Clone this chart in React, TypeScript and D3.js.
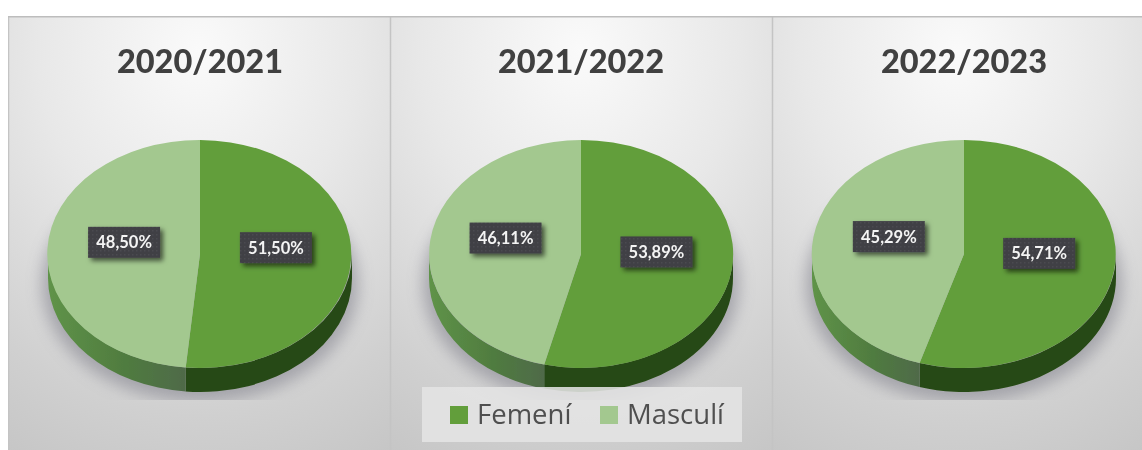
import React from "react";
import * as d3 from "d3";

const years = ["2020/2021", "2021/2022", "2022/2023"];
const categories = ["Femení", "Masculí"];
const femeni = [51.5, 53.89, 54.71];
const masculi = [48.5, 46.11, 45.29];
const colors = ["#629e3b", "#a3c88f"];
const labelText = (v: number) => v.toFixed(2).replace(".", ",") + "%";

const W = 1142, H = 450;
const RX = 152, RY = 114, CY = 254, DEPTH = 24;
const centers = [200, 581, 964];
const panelEdges = [8, 390, 772, 1142];

const pt = (a: number) => [RX * Math.sin(a), -RY * Math.cos(a)];
function sidePath(a0: number, a1: number) {
  const [x0, y0] = pt(a0), [x1, y1] = pt(a1);
  return `M${x0},${y0}A${RX},${RY} 0 0 1 ${x1},${y1}L${x1},${y1 + DEPTH}A${RX},${RY} 0 0 0 ${x0},${y0 + DEPTH}Z`;
}
const pie = d3.pie<number>().sort(null);
const arcGen = d3.arc<d3.PieArcDatum<number>>().innerRadius(0).outerRadius(1);

export default function App() {
  return (
    <svg width={W} height={H} viewBox={`0 0 ${W} ${H}`} style={{ position: "absolute", left: 0, top: 0, background: "#fff" }}>
      <defs>
        <radialGradient id="bg" cx="50%" cy="8%" r="105%">
          <stop offset="0%" stopColor="#fafafa" />
          <stop offset="40%" stopColor="#e8e8e8" />
          <stop offset="80%" stopColor="#d0d0d0" />
          <stop offset="100%" stopColor="#c6c6c6" />
        </radialGradient>
        <linearGradient id="sideLight" x1="0" x2="1" y1="0" y2="0">
          <stop offset="0%" stopColor="#5f9348" />
          <stop offset="55%" stopColor="#507c40" />
          <stop offset="100%" stopColor="#4f6a48" />
        </linearGradient>
        <filter id="blur" x="-20%" y="-20%" width="140%" height="140%">
          <feGaussianBlur stdDeviation="8" />
        </filter>
        <filter id="lblShadow" x="-20%" y="-30%" width="150%" height="170%">
          <feDropShadow dx="3" dy="3" stdDeviation="2.5" floodColor="#000" floodOpacity="0.6" />
        </filter>
        <filter id="soft" x="0" y="0" width="100%" height="100%">
          <feGaussianBlur stdDeviation="0.4" />
        </filter>
        <pattern id="dots" width="4" height="4" patternUnits="userSpaceOnUse">
          <rect width="4" height="4" fill="#3f3f45" />
          <rect width="1.5" height="1.5" fill="#4b4b50" />
        </pattern>
        <clipPath id="shadowClip">
          <rect x="0" y="0" width={W} height="400" />
        </clipPath>
      </defs>

      <g filter="url(#soft)">
        {years.map((y, i) => (
          <g key={"p" + y}>
            <rect x={panelEdges[i]} y={16} width={panelEdges[i + 1] - panelEdges[i]} height={H - 16} fill="url(#bg)" />
            <line x1={panelEdges[i] + 0.5} x2={panelEdges[i] + 0.5} y1={16} y2={H} stroke="#c4c4c4" strokeWidth={1.5} />
          </g>
        ))}
        <line x1={8} x2={W} y1={16.5} y2={16.5} stroke="#bdbdbd" strokeWidth={2} />

        {years.map((y, i) => {
          const cx = centers[i];
          const arcs = pie([femeni[i], masculi[i]]);
          const boundary = arcs[0].endAngle;
          return (
            <g key={y}>
              <text x={cx} y={73} textAnchor="middle" fontFamily="Lato" fontWeight={900} fontSize={32.5} fill="#404040">{y}</text>
              <g clipPath="url(#shadowClip)">
                <ellipse cx={cx} cy={CY + DEPTH + 6} rx={RX + 6} ry={RY + 4} fill="#8f8f98" filter="url(#blur)" opacity={0.7} />
              </g>
              <g transform={`translate(${cx},${CY})`}>
                <path d={sidePath(Math.PI / 2, boundary)} fill="#264a12" />
                <path d={sidePath(boundary, Math.PI * 1.5)} fill="url(#sideLight)" />
                <g transform={`scale(${RX},${RY})`}>
                  {arcs.map((a, j) => (
                    <path key={j} d={arcGen(a) as string} fill={colors[j]} />
                  ))}
                </g>
                {arcs.map((a, j) => {
                  const [mx, my] = arcGen.centroid(a);
                  const lx = mx * RX;
                  const ly = my * RY - 9;
                  return (
                    <g key={"l" + j}>
                      <rect x={lx - 36} y={ly - 15.5} width={72} height={31} fill="url(#dots)" filter="url(#lblShadow)" />
                      <text x={lx} y={ly + 6} textAnchor="middle" fontFamily="Lato" fontWeight={700} fontSize={16.5} fill="#f4f4f4">{labelText(a.data)}</text>
                    </g>
                  );
                })}
              </g>
            </g>
          );
        })}

        <rect x={422} y={387} width={320} height={55} fill="#e4e4e4" opacity={0.88} />
        {categories.map((c, i) => {
          const sx = [450, 600][i];
          return (
            <g key={c}>
              <rect x={sx} y={406} width={18} height={18} fill={colors[i]} />
              <text x={sx + 27} y={424} fontFamily="Open Sans" fontSize={27.5} fill="#505050">{c}</text>
            </g>
          );
        })}
      </g>
    </svg>
  );
}
